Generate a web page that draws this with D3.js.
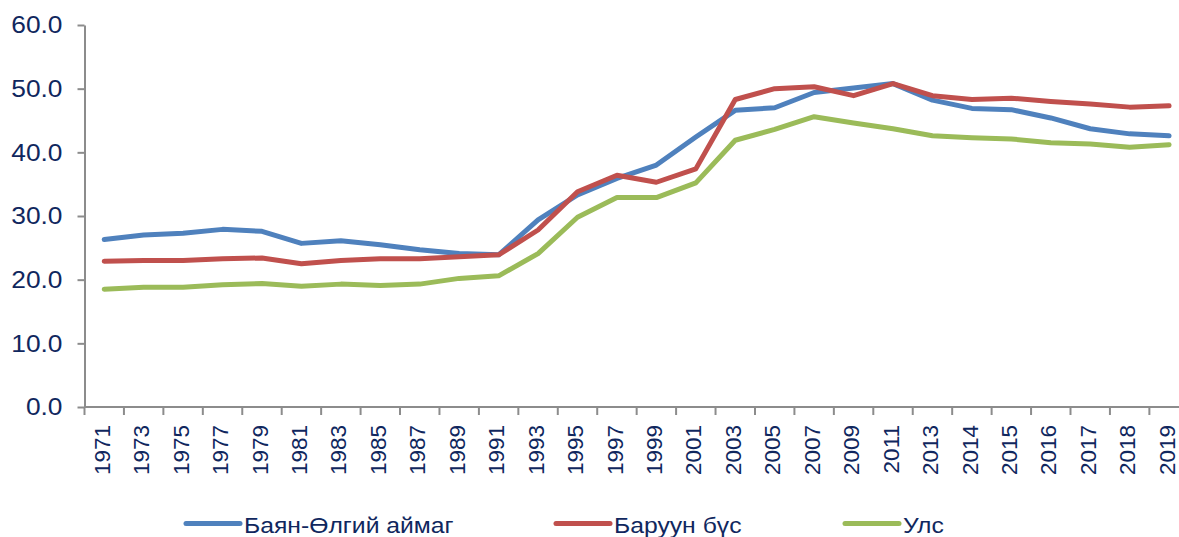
<!DOCTYPE html>
<html>
<head>
<meta charset="utf-8">
<script src="https://cdn.jsdelivr.net/npm/d3@7"></script>
<style>
   body { margin: 0; background: #fff; }
   svg text { font-family: 'Liberation Sans', Arial, sans-serif; fill: #10275e; }
</style>
</head>
<body>
<svg id="chart" width="1179" height="537"></svg>
<script>
// Years on the x axis (odd years until 2013, then every year)
const years = ['1971', '1973', '1975', '1977', '1979', '1981', '1983', '1985', '1987', '1989',
               '1991', '1993', '1995', '1997', '1999', '2001', '2003', '2005', '2007', '2009',
               '2011', '2013', '2014', '2015', '2016', '2017', '2018', '2019'];

const bayanOlgii = [26.3, 27.0, 27.3, 27.9, 27.6, 25.7, 26.1, 25.5, 24.7, 24.1,
                    23.9, 29.4, 33.3, 35.9, 38.0, 42.4, 46.6, 47.0, 49.4, 50.1,
                    50.8, 48.2, 46.9, 46.7, 45.4, 43.7, 42.9, 42.6];

const baruunBus = [22.9, 23.0, 23.0, 23.3, 23.4, 22.5, 23.0, 23.3, 23.3, 23.6,
                   23.9, 27.8, 33.8, 36.4, 35.3, 37.4, 48.3, 50.0, 50.3, 48.9,
                   50.8, 48.9, 48.3, 48.5, 48.0, 47.6, 47.1, 47.3];

const uls = [18.5, 18.8, 18.8, 19.2, 19.4, 18.95, 19.3, 19.1, 19.3, 20.2,
             20.6, 24.1, 29.8, 32.9, 32.9, 35.2, 41.9, 43.6, 45.6, 44.6,
             43.7, 42.6, 42.3, 42.1, 41.5, 41.3, 40.8, 41.2];

const yTicks = [0, 10, 20, 30, 40, 50, 60];

const series = [
   { name: 'Баян-Өлгий аймаг', values: bayanOlgii, color: '#4f81bd' },
   { name: 'Баруун бүс', values: baruunBus, color: '#c0504d' },
   { name: 'Улс', values: uls, color: '#9bbb59' }
];

const svg = d3.select('#chart');
const AXIS_COLOR = '#8c8c8c';
// the original text is drawn slightly wider than it is tall
const STRETCH = 1.075;

// Plot area: the original is cut off on the right, so the range runs past the edge
const x = d3.scaleBand()
            .domain(years)
            .range([84.5, 84.5 + 39.44 * years.length]);

const y = d3.scaleLinear()
            .domain([0, 60])
            .range([407, 25]);

// Y axis
const yAxis = svg.append('g')
                 .attr('transform', 'translate(84.5,0)')
                 .call(d3.axisLeft(y).tickValues(yTicks).tickSize(7).tickSizeOuter(0).tickFormat(d3.format('.1f')));
yAxis.select('.domain').attr('stroke', AXIS_COLOR).attr('stroke-width', 2);
yAxis.selectAll('.tick line').attr('stroke', AXIS_COLOR).attr('stroke-width', 2);
yAxis.selectAll('.tick text')
     .attr('x', 0)
     .attr('transform', 'translate(-22,0) scale(' + STRETCH + ',1)')
     .style('font-size', '24.5px');

// X axis: ticks sit on the band boundaries
const xAxis = svg.append('g')
                 .attr('transform', 'translate(0,407)');
xAxis.append('line')
     .attr('x1', x.range()[0])
     .attr('x2', x.range()[1])
     .attr('stroke', AXIS_COLOR)
     .attr('stroke-width', 2);
xAxis.selectAll('.xtick')
     .data(years)
     .enter()
     .append('line')
     .attr('class', 'xtick')
     .attr('x1', d => x(d))
     .attr('x2', d => x(d))
     .attr('y1', 0)
     .attr('y2', 8)
     .attr('stroke', AXIS_COLOR)
     .attr('stroke-width', 2);
xAxis.selectAll('.xlabel')
     .data(years)
     .enter()
     .append('text')
     .attr('class', 'xlabel')
     .attr('transform', d => 'translate(' + (x(d) + x.bandwidth() / 2 - 2.5) + ',18) rotate(-90)')
     .attr('text-anchor', 'end')
     .attr('dy', '0.36em')
     .style('font-size', '22.5px')
     .text(d => d);

// Lines
const line = d3.line()
               .x((d, i) => x(years[i]) + x.bandwidth() / 2)
               .y(d => y(d));

svg.selectAll('.series')
   .data(series)
   .enter()
   .append('path')
   .attr('class', 'series')
   .attr('d', d => line(d.values))
   .attr('fill', 'none')
   .attr('stroke', d => d.color)
   .attr('stroke-width', 5)
   .attr('stroke-linejoin', 'round')
   .attr('stroke-linecap', 'round');

// Legend
const legendX = [186, 556, 845];
const legend = svg.selectAll('.legend')
                  .data(series)
                  .enter()
                  .append('g')
                  .attr('class', 'legend')
                  .attr('transform', (d, i) => 'translate(' + legendX[i] + ',523.5)');

legend.append('line')
      .attr('x1', 0)
      .attr('x2', 54)
      .attr('stroke', d => d.color)
      .attr('stroke-width', 5)
      .attr('stroke-linecap', 'round');

legend.append('text')
      .attr('transform', 'translate(58,9.5) scale(' + STRETCH + ',1)')
      .style('font-size', '23px')
      .text(d => d.name);
</script>
</body>
</html>
